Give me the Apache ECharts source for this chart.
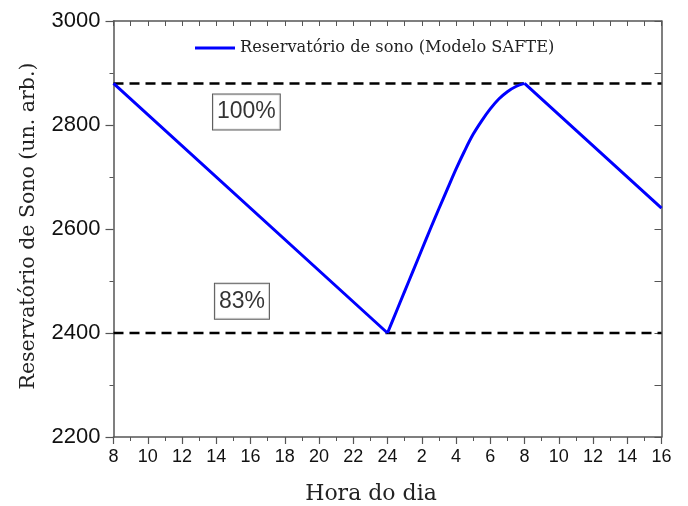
<!DOCTYPE html>
<html>
<head>
<meta charset="utf-8">
<script src="https://cdn.jsdelivr.net/npm/echarts@6/dist/echarts.min.js"></script>
<style>
  html, body { margin: 0; padding: 0; background: #fff; }
  #chart { width: 688px; height: 506px; }
</style>
</head>
<body>
<div id="chart"></div>
<script>
// Hours elapsed since 08:00 on the first day, awake periods (null splits the two)
const wakeHours = [0, 16, null, 24, 32];
const wakeReservoir = [2880, 2400, null, 2880, 2640];
// Recovery during sleep, 00:00 to 08:00
const sleepHours = [16, 16.5, 17, 17.5, 18, 18.5, 19, 19.5, 20, 20.5, 21, 21.5, 22, 22.5, 23, 23.5, 24];
const sleepReservoir = [2400, 2440, 2480, 2520, 2560, 2600, 2639, 2677, 2715, 2750, 2782, 2808, 2831, 2850, 2864, 2874, 2880];
// Clock labels for the hour ticks (every 2 h)
const tickLabels = ['8', '10', '12', '14', '16', '18', '20', '22', '24', '2', '4', '6', '8', '10', '12', '14', '16'];
// Reference levels: full reservoir and 83 % of it
const refLevels = [2880, 2400];
const refTexts = ['100%', '83%'];
const refTextAt = [[7.76, 2825], [7.5, 2461]];

const seriesName = 'Reservatório de sono (Modelo SAFTE)';
const numFont = '"Liberation Sans", Arial, sans-serif';
const serif = '"DejaVu Serif", serif';
const axisColor = '#555';
const blue = '#0000ff';

const chart = echarts.init(document.getElementById('chart'), null, { renderer: 'canvas' });

const series = [{
  name: seriesName,
  type: 'line',
  data: wakeHours.map((h, i) => h === null ? '-' : [h, wakeReservoir[i]]),
  connectNulls: false,
  symbol: 'none',
  lineStyle: { color: blue, width: 3 },
  itemStyle: { color: blue },
  z: 5
}, {
  name: 'sleep',
  type: 'line',
  data: sleepHours.map((h, i) => [h, sleepReservoir[i]]),
  smooth: 0.35,
  symbol: 'none',
  lineStyle: { color: blue, width: 3 },
  itemStyle: { color: blue },
  z: 5
}];

refLevels.forEach((lvl, i) => {
  series.push({
    name: 'ref' + i,
    type: 'line',
    data: [[0, lvl], [32, lvl]],
    symbol: 'none',
    lineStyle: { color: '#000', width: 2.5, type: [10, 6] },
    silent: true,
    z: 4
  });
});

series.push({
  name: 'refText',
  type: 'scatter',
  data: refTextAt.map((p, i) => ({ value: p, label: { formatter: refTexts[i] } })),
  symbolSize: 0,
  silent: true,
  label: {
    show: true,
    position: 'inside',
    fontFamily: numFont,
    fontSize: 23,
    color: '#000',
    backgroundColor: '#fff',
    borderColor: '#333',
    borderWidth: 1,
    padding: [6, 4, 5, 4],
    lineHeight: 24
  }
});

chart.setOption({
  animation: false,
  backgroundColor: '#fff',
  grid: { left: 113.5, right: 26.5, top: 21, bottom: 69, outerBoundsMode: 'none', containLabel: false },
  legend: {
    data: [{ name: seriesName, icon: 'rect' }],
    left: 195,
    top: 40,
    padding: 0,
    itemWidth: 40,
    itemHeight: 3,
    textStyle: { fontFamily: serif, fontSize: 16.2, color: '#222' }
  },
  xAxis: [{
    type: 'value',
    min: 0,
    max: 32,
    interval: 2,
    name: 'Hora do dia',
    nameLocation: 'middle',
    nameGap: 46,
    nameTextStyle: { fontFamily: serif, fontSize: 22, color: '#222', padding: [0, 33, 0, 0] },
    axisLine: { show: true, lineStyle: { color: axisColor, width: 1.5 } },
    axisTick: { show: true, inside: false, length: 7, lineStyle: { color: axisColor, width: 1.2 } },
    minorTick: { show: true, splitNumber: 2, length: 4, lineStyle: { color: axisColor, width: 1 } },
    splitLine: { show: false },
    axisLabel: {
      fontFamily: numFont, fontSize: 18, color: '#111', margin: 11,
      formatter: v => tickLabels[Math.round(v / 2)]
    }
  }, {
    type: 'value',
    position: 'top',
    min: 0,
    max: 32,
    interval: 1,
    axisLine: { show: true, onZero: false, lineStyle: { color: axisColor, width: 1.5 } },
    axisTick: { show: true, inside: true, length: 5, lineStyle: { color: axisColor, width: 1 } },
    axisLabel: { show: false },
    splitLine: { show: false }
  }],
  yAxis: [{
    type: 'value',
    min: 2200,
    max: 3000,
    interval: 200,
    name: 'Reservatório de Sono (un. arb.)',
    nameLocation: 'middle',
    nameGap: 74,
    nameTextStyle: { fontFamily: serif, fontSize: 20.5, color: '#222', padding: [0, 0, 0, 6] },
    axisLine: { show: true, lineStyle: { color: axisColor, width: 1.5 } },
    axisTick: { show: true, inside: false, length: 8, lineStyle: { color: axisColor, width: 1.2 } },
    minorTick: { show: true, splitNumber: 2, length: 4, lineStyle: { color: axisColor, width: 1 } },
    splitLine: { show: false },
    axisLabel: { fontFamily: numFont, fontSize: 22, color: '#111', margin: 13, formatter: v => String(v) }
  }, {
    type: 'value',
    position: 'right',
    min: 2200,
    max: 3000,
    interval: 100,
    axisLine: { show: true, onZero: false, lineStyle: { color: axisColor, width: 1.5 } },
    axisTick: { show: true, inside: true, length: 7, lineStyle: { color: axisColor, width: 1 } },
    axisLabel: { show: false },
    splitLine: { show: false }
  }],
  series: series
});
</script>
</body>
</html>
